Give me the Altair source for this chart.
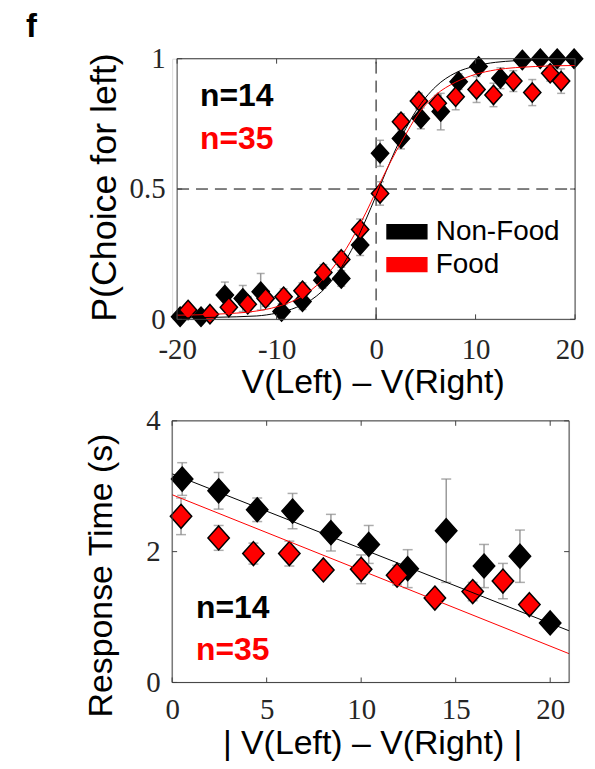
import altair as alt
import pandas as pd

GROUPS = ["Non-Food", "Food"]
COLORS = ["#000000", "#ff0000"]
BOX = "#404040"
ERR = "#9a9a9a"

# ---------------- top panel: P(choice for left) ----------------
nf_x = [-19.7, -17.6, -15.2, -13.4, -11.6, -9.5, -7.4, -5.4, -3.5, -1.6, 0.4,
        2.5, 4.5, 6.5, 8.3, 10.3, 12.5, 14.7, 16.5, 18.2, 19.9]
nf_p = [0.01, 0.01, 0.093, 0.08, 0.106, 0.03, 0.068, 0.15, 0.157, 0.285, 0.637,
        0.694, 0.771, 0.797, 0.912, 0.97, 0.925, 0.995, 1.0, 1.0, 1.0]
nf_pe = [0.01, 0.01, 0.05, 0.05, 0.07, 0.03, 0.03, 0.03, 0.03, 0.04, 0.05,
         0.04, 0.04, 0.07, 0.03, 0.02, 0.04, 0.01, 0.01, 0.01, 0.01]

fd_x = [-18.9, -16.7, -14.8, -12.9, -11.1, -9.3, -7.4, -5.3, -3.5, -1.6, 0.4,
        2.5, 4.3, 6.2, 8.0, 10.1, 11.8, 13.8, 15.7, 17.5, 18.6]
fd_p = [0.036, 0.02, 0.046, 0.058, 0.08, 0.087, 0.11, 0.18, 0.23, 0.345, 0.483,
        0.758, 0.838, 0.829, 0.854, 0.882, 0.861, 0.914, 0.87, 0.944, 0.914]
fd_pe = [0.02, 0.02, 0.02, 0.03, 0.03, 0.03, 0.03, 0.03, 0.03, 0.04, 0.045,
         0.03, 0.03, 0.03, 0.05, 0.05, 0.045, 0.04, 0.05, 0.03, 0.047]

fit_x = [-20, -16, -12, -10, -8, -6, -4, -3, -2, -1, 0, 1, 2, 3, 4, 6, 8, 10, 12, 16, 20]
nf_fit = [0.005, 0.008, 0.013, 0.024, 0.046, 0.089, 0.171, 0.23, 0.301, 0.385, 0.475,
          0.567, 0.655, 0.733, 0.799, 0.893, 0.946, 0.972, 0.986, 0.995, 0.997]
fd_fit = [0.016, 0.02, 0.032, 0.048, 0.077, 0.129, 0.215, 0.271, 0.338, 0.411, 0.491,
          0.57, 0.644, 0.711, 0.775, 0.861, 0.91, 0.94, 0.957, 0.97, 0.974]

top_xticks = [-20, -10, 0, 10, 20]
top_yticks = [0, 0.5, 1]

# ---------------- bottom panel: response time ----------------
rt_nf_x = [0.53, 2.46, 4.5, 6.37, 8.4, 10.4, 12.46, 14.5, 16.5, 18.4, 20.0]
rt_nf = [3.11, 2.93, 2.64, 2.62, 2.29, 2.11, 1.74, 2.32, 1.78, 1.93, 0.91]
rt_nf_e = [0.25, 0.28, 0.18, 0.27, 0.28, 0.29, 0.29, 0.79, 0.33, 0.40, 0.06]

rt_fd_x = [0.47, 2.46, 4.3, 6.2, 8.0, 10.0, 11.9, 13.9, 15.9, 17.5, 18.9]
rt_fd = [2.54, 2.21, 1.97, 1.97, 1.72, 1.73, 1.64, 1.29, 1.39, 1.55, 1.19]
rt_fd_e = [0.28, 0.19, 0.16, 0.19, 0.10, 0.22, 0.15, 0.06, 0.14, 0.27, 0.08]

line_x = [0, 21]
nf_line = [3.19, 0.79]
fd_line = [2.87, 0.44]

bot_xticks = [0, 5, 10, 15, 20]
bot_yticks = [0, 2, 4]

n_labels = ["n=14", "n=35"]

# ---------------- helpers ----------------
TOP_W, TOP_H = 405, 262
BOT_W, BOT_H = 399, 263
top_xdom, top_ydom = [-20.5, 20], [0, 1]
bot_xdom, bot_ydom = [0, 21], [0, 4]


def points_df(xs_list, ys_list, es_list):
    rows = []
    for g, xs, ys, es in zip(GROUPS, xs_list, ys_list, es_list):
        for x, y, e in zip(xs, ys, es):
            rows.append({"group": g, "x": x, "y": y, "lo": y - e, "hi": y + e})
    return pd.DataFrame(rows)


def lines_df(xs, ys_list):
    rows = []
    for g, ys in zip(GROUPS, ys_list):
        for x, y in zip(xs, ys):
            rows.append({"group": g, "x": x, "y": y})
    return pd.DataFrame(rows)


def box_ticks_df(x0, x1, y0, y1, xticks, yticks, tlx, tly):
    rows = [
        {"x": x0, "x2": x1, "y": y0, "y2": y0},
        {"x": x0, "x2": x1, "y": y1, "y2": y1},
        {"x": x0, "x2": x0, "y": y0, "y2": y1},
        {"x": x1, "x2": x1, "y": y0, "y2": y1},
    ]
    for t in xticks:
        rows.append({"x": t, "x2": t, "y": y0, "y2": y0 + tly})
        rows.append({"x": t, "x2": t, "y": y1, "y2": y1 - tly})
    for t in yticks:
        rows.append({"x": x0, "x2": x0 + tlx, "y": t, "y2": t})
        rows.append({"x": x1, "x2": x1 - tlx, "y": t, "y2": t})
    return pd.DataFrame(rows)


def make_panel(pts, lines, xdom, ydom, xticks, yticks, w, h, xtitle, ytitle,
               xt_pos, yt_pos, ylab_pad, xlab_pad, msize, capsize, txt_xy,
               ytitle_size, box_x0, legend, dashed, flush):
    xs = alt.Scale(domain=xdom, nice=False, zero=False)
    ys = alt.Scale(domain=ydom, nice=False, zero=False)
    xaxis = alt.Axis(values=xticks, labelExpr="datum.value + ''", labelFont="Liberation Serif",
                     labelFontSize=29, labelColor="#262626", labelPadding=xlab_pad,
                     labelFlush=flush, labelFlushOffset=9 if flush else 0,
                     labelOverlap=False, grid=False, ticks=False, domain=False,
                     title=xtitle, titleFont="Liberation Sans", titleFontSize=34,
                     titleFontWeight="normal", titleColor="black", titleX=xt_pos[0],
                     titleY=xt_pos[1], titleBaseline="alphabetic", titleAlign="center")
    yaxis = alt.Axis(values=yticks, labelExpr="datum.value + ''", labelFont="Liberation Serif",
                     labelFontSize=29, labelColor="#262626", labelPadding=ylab_pad,
                     labelFlush=False, labelOverlap=False, grid=False, ticks=False,
                     domain=False,
                     title=ytitle, titleFont="Liberation Sans", titleFontSize=ytitle_size,
                     titleFontWeight="normal", titleColor="black", titleX=yt_pos[0],
                     titleY=yt_pos[1], titleBaseline="middle", titleAlign="center",
                     titleAngle=270)

    def X(f):
        return alt.X(f, type="quantitative", scale=xs, axis=xaxis)

    def Y(f):
        return alt.Y(f, type="quantitative", scale=ys, axis=yaxis)

    layers = []
    if dashed:
        dv = pd.DataFrame({"x": [0], "x2": [0], "y": [ydom[0]], "y2": [ydom[1]]})
        dh = pd.DataFrame({"x": [box_x0], "x2": [xdom[1]], "y": [0.5], "y2": [0.5]})
        for d in (dv, dh):
            layers.append(alt.Chart(d).mark_rule(color="#000000", strokeWidth=1,
                                                 strokeDash=[12, 7]).encode(
                x=X("x"), x2="x2", y=Y("y"), y2="y2"))

    base = alt.Chart(pts)
    layers.append(base.mark_rule(color=ERR, strokeWidth=1.5).encode(
        x=X("x"), y=Y("lo"), y2="hi"))
    for f in ("lo", "hi"):
        layers.append(base.mark_tick(orient="horizontal", color="#8a8a8a", size=capsize,
                                     thickness=1.5).encode(x=X("x"), y=Y(f)))

    fill_scale = alt.Scale(domain=GROUPS, range=COLORS)
    diamond = "M0,-1.12L1,0L0,1.12L-1,0Z"
    if legend:
        leg = alt.Legend(orient="none", legendX=220, legendY=158, title=None,
                         symbolType="M-1.333,-0.467L1.333,-0.467L1.333,0.467L-1.333,0.467Z",
                         symbolSize=900, symbolStrokeColor="black", symbolStrokeWidth=1.5,
                         symbolOpacity=1, labelFont="Liberation Sans", labelFontSize=28,
                         labelColor="black", labelOffset=13, rowPadding=3, padding=0,
                         labelLimit=300)
    else:
        leg = None
    layers.append(base.mark_point(shape=diamond, filled=True, size=msize, stroke="black",
                                  strokeWidth=1.5, fillOpacity=1, opacity=1).encode(
        x=X("x"), y=Y("y"),
        fill=alt.Fill("group:N", scale=fill_scale, legend=leg, sort=GROUPS)))

    layers.append(alt.Chart(lines).mark_line(strokeWidth=1, interpolate="monotone").encode(
        x=X("x"), y=Y("y"),
        stroke=alt.Stroke("group:N", scale=alt.Scale(domain=GROUPS, range=COLORS), legend=None),
        detail="group:N"))

    tlx = 5 * (xdom[1] - xdom[0]) / w
    tly = 5 * (ydom[1] - ydom[0]) / h
    bt = box_ticks_df(box_x0, xdom[1], ydom[0], ydom[1], xticks, yticks, tlx, tly)
    layers.append(alt.Chart(bt).mark_rule(color=BOX, strokeWidth=1).encode(
        x=X("x"), x2="x2", y=Y("y"), y2="y2"))

    for lab, col, (tx, ty) in zip(n_labels, COLORS, txt_xy):
        td = pd.DataFrame({"x": [tx], "y": [ty], "t": [lab]})
        layers.append(alt.Chart(td).mark_text(font="Liberation Sans", fontSize=32,
                                              fontWeight="bold", color=col, align="left",
                                              baseline="alphabetic").encode(
            x=X("x"), y=Y("y"), text="t"))
    return layers


top_pts = points_df([nf_x, fd_x], [nf_p, fd_p], [nf_pe, fd_pe])
top_lines = lines_df(fit_x, [nf_fit, fd_fit])
top_layers = make_panel(
    top_pts, top_lines, top_xdom, top_ydom, top_xticks, top_yticks, TOP_W, TOP_H,
    "V(Left) \u2013 V(Right)", "P(Choice for left)", (201.5, 74), (-68, 129), 7, 16,
    300, 8, [(-17.7, 0.82), (-17.7, 0.655)], 36, -20, True, True, 1)

f_label = alt.Chart(pd.DataFrame({"t": ["f"]})).mark_text(
    font="Liberation Sans", fontSize=33, fontWeight="bold", color="black",
    align="left", baseline="top").encode(
    text="t", x=alt.value(-147), y=alt.value(-48))
top_layers.append(f_label)

top = alt.layer(*top_layers).properties(width=TOP_W, height=TOP_H)

bot_pts = points_df([rt_nf_x, rt_fd_x], [rt_nf, rt_fd], [rt_nf_e, rt_fd_e])
bot_lines = lines_df(line_x, [nf_line, fd_line])
bot_layers = make_panel(
    bot_pts, bot_lines, bot_xdom, bot_ydom, bot_xticks, bot_yticks, BOT_W, BOT_H,
    "| V(Left) \u2013 V(Right) |", "Response Time (s)", (201, 71), (-71, 155), 12, 13,
    462, 10, [(1.26, 0.99), (1.26, 0.35)], 34, 0, False, False, False)
bottom = alt.layer(*bot_layers).properties(width=BOT_W, height=BOT_H)

chart = alt.vconcat(top, bottom, spacing=102, bounds="flush").resolve_scale(
    x="independent", y="independent", fill="independent", stroke="independent"
).resolve_legend(fill="independent").properties(
    padding={"left": 17, "top": 0, "right": 0, "bottom": 0}
).configure_view(stroke=None).configure_axis(
    grid=False, domain=False, ticks=False, tickSize=0
).configure(background="white")

chart.save("out.html", embed_options={"renderer": "svg", "actions": False})
